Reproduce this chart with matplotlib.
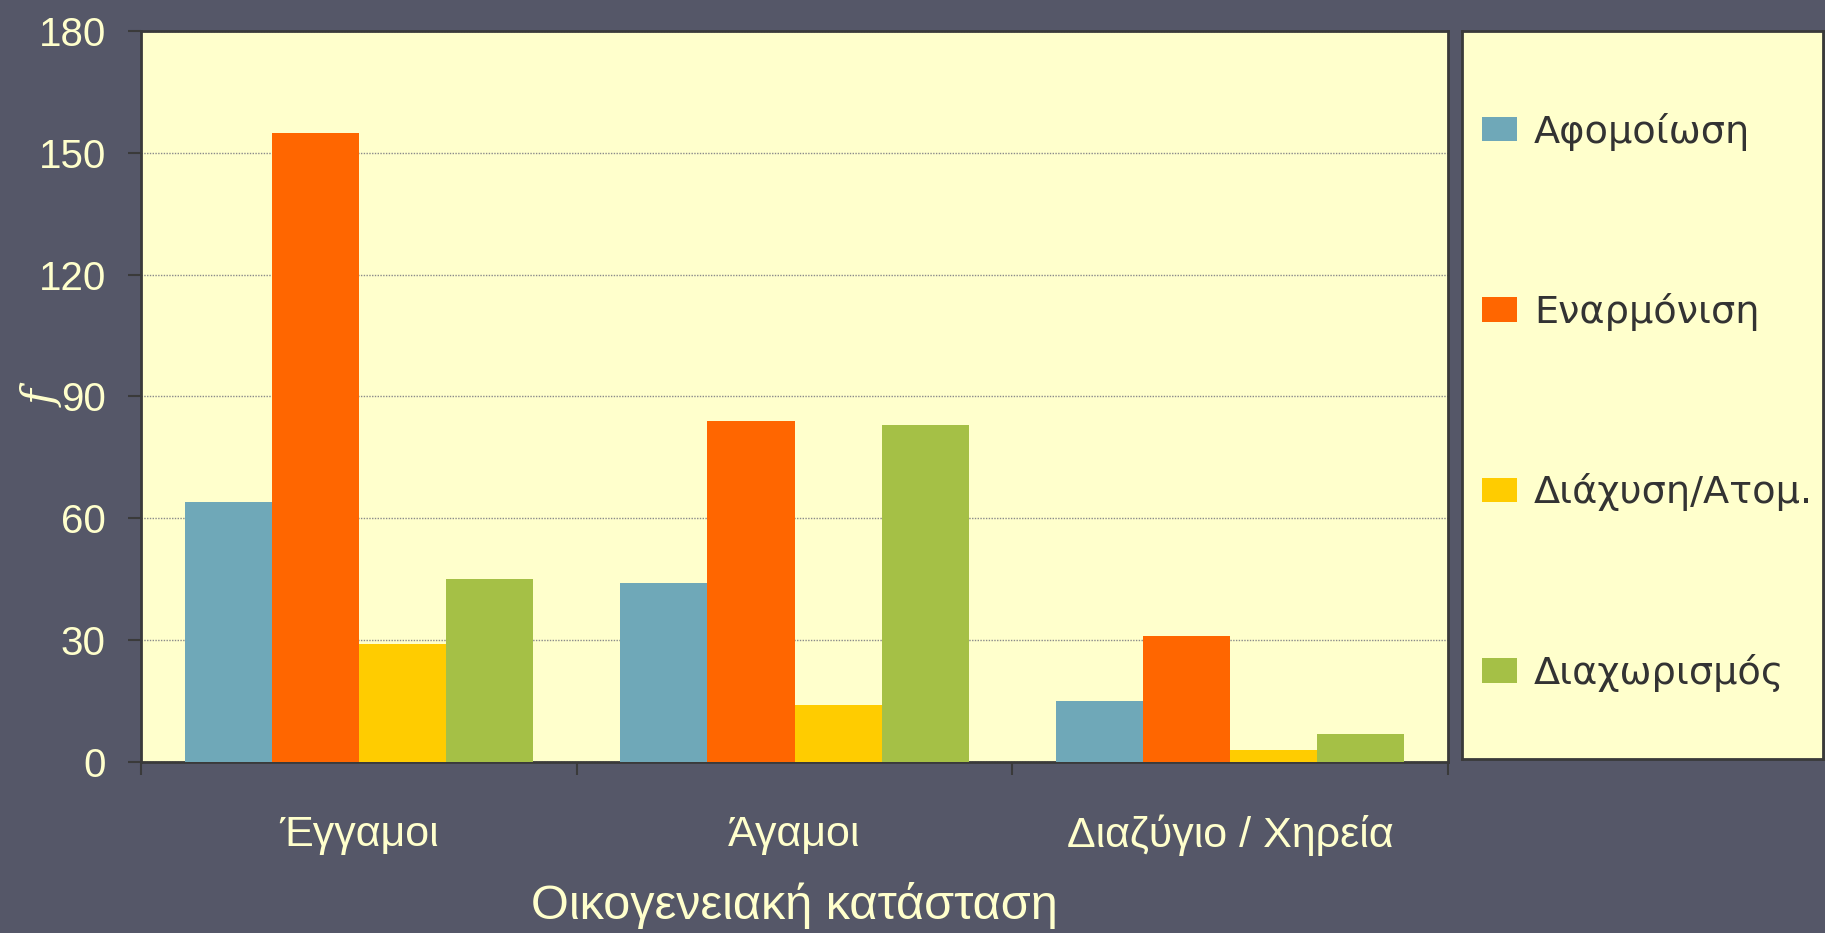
import matplotlib.pyplot as plt
import numpy as np

categories = ["Έγγαμοι", "Άγαμοι", "Διαζύγιο / Χηρεία"]
series_names = ["Αφομοίωση", "Εναρμόνιση", "Διάχυση/Ατομ.", "Διαχωρισμός"]
assimilation = [64, 44, 15]
integration = [155, 84, 31]
diffusion = [29, 14, 3]
separation = [45, 83, 7]
colors = ["#6FA8B8", "#FF6600", "#FFCC00", "#A5C046"]
yticks = [0, 30, 60, 90, 120, 150, 180]

bg = "#555768"
cream = "#FFFFCC"
dark = "#3A3A3A"
sans = ["Liberation Sans", "DejaVu Sans"]

fig = plt.figure(figsize=(18.25, 9.33), dpi=100, facecolor=bg)
ax = fig.add_axes([0.0773, 0.1833, 0.7161, 0.7835])
ax.set_facecolor(cream)

x = np.arange(len(categories))
width = 0.2
values = [assimilation, integration, diffusion, separation]
bars = []
for i, vals in enumerate(values):
    b = ax.bar(x + (i - 1.5) * width, vals, width, color=colors[i], label=series_names[i], zorder=3)
    bars.append(b)

ax.set_xlim(-0.5, 2.5)
ax.set_ylim(0, 180)
ax.set_yticks(yticks)
ax.set_yticklabels([str(v) for v in yticks], family=sans, fontsize=29, color=cream)
ax.tick_params(axis="y", length=9.4, width=1.5, color=dark, pad=16, direction="out")

# boundary ticks, labels at the centres
ax.set_xticks([-0.5, 0.5, 1.5, 2.5])
ax.set_xticklabels([])
ax.tick_params(axis="x", which="major", length=9, width=1.5, color=dark, direction="out")
ax.set_xticks(x, minor=True)
ax.set_xticklabels(categories, minor=True, family=sans, fontsize=31, color=cream)
ax.tick_params(axis="x", which="minor", length=0, pad=38)

ax.grid(axis="y", color="#8A8A8A", linewidth=1, linestyle=(0, (1, 1)), zorder=0)
for s in ax.spines.values():
    s.set_color(dark)
    s.set_linewidth(2)

fig.text(0.4353, 0.029, "Οικογενειακή κατάσταση", family=sans, fontsize=35,
         color=cream, ha="center", va="center")
fig.text(0.024, 0.572, "f", family="DejaVu Serif", style="italic", fontsize=31,
         color=cream, ha="center", va="center", rotation=90)

# legend box
lax = fig.add_axes([0.8011, 0.1865, 0.1978, 0.7803])
lax.set_facecolor(cream)
lax.set_xticks([])
lax.set_yticks([])
for s in lax.spines.values():
    s.set_color(dark)
    s.set_linewidth(2)
leg = lax.legend(handles=bars, labels=series_names, loc="center left", bbox_to_anchor=(0.055, 0.49),
                 frameon=False, fontsize=27.5, labelspacing=3.73, handlelength=0.92,
                 handleheight=0.6, handletextpad=0.45, borderpad=0, borderaxespad=0)
for t in leg.get_texts():
    t.set_color("#333333")

fig.savefig("out.png", dpi=100, facecolor=bg)
